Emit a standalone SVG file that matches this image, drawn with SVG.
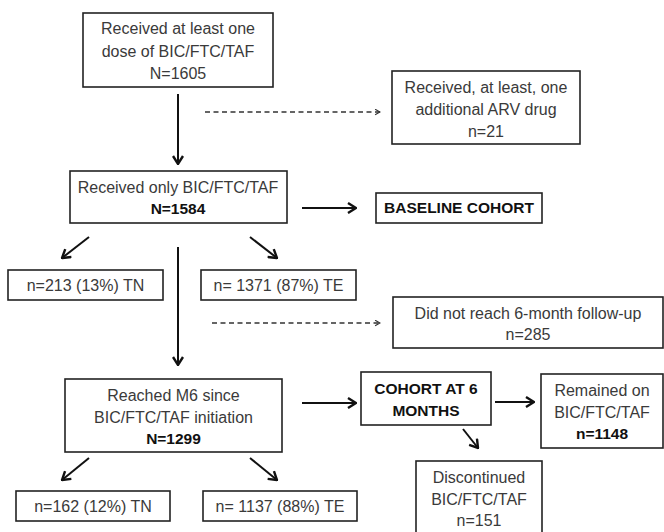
<svg xmlns="http://www.w3.org/2000/svg" width="664" height="532" viewBox="0 0 664 532">
<style>
.box{fill:#fff;stroke:#222;stroke-width:1.6}
.t{font-family:"Liberation Sans",Arial,sans-serif;font-size:16px;fill:#3a3a3a;text-anchor:middle}
.b{font-weight:bold;fill:#111;font-size:15.5px}
.c{stroke:#111;stroke-width:2;fill:none}
.d{stroke:#333;stroke-width:1.3;fill:none;stroke-dasharray:5,3.5}
</style>
<defs>
<marker id="ah2" viewBox="0 0 10 10" refX="9" refY="5" markerWidth="7" markerHeight="7" orient="auto" markerUnits="userSpaceOnUse">
<path d="M2,1 L9,5 L2,9" fill="none" stroke="#333" stroke-width="1.6"/>
</marker>
<marker id="ahb" viewBox="0 0 12 12" refX="11" refY="6" markerWidth="12" markerHeight="12" orient="auto" markerUnits="userSpaceOnUse">
<path d="M3,1 L11,6 L3,11" fill="none" stroke="#111" stroke-width="2.4"/>
</marker>
</defs>
<g id="connectors">
<line class="c" x1="178" y1="94" x2="178" y2="164" marker-end="url(#ahb)"/>
<line class="d" x1="205" y1="112" x2="380" y2="112" marker-end="url(#ah2)"/>
<line class="c" x1="302" y1="208" x2="356" y2="208" marker-end="url(#ahb)"/>
<line class="c" x1="89" y1="237" x2="62" y2="258" marker-end="url(#ahb)"/>
<line class="c" x1="250" y1="237" x2="277" y2="258" marker-end="url(#ahb)"/>
<line class="c" x1="178" y1="247" x2="178" y2="365" marker-end="url(#ahb)"/>
<line class="d" x1="212" y1="323" x2="380" y2="323" marker-end="url(#ah2)"/>
<line class="c" x1="302" y1="403" x2="356" y2="403" marker-end="url(#ahb)"/>
<line class="c" x1="495" y1="402" x2="534" y2="402" marker-end="url(#ahb)"/>
<line class="c" x1="463" y1="429" x2="478" y2="448" marker-end="url(#ahb)"/>
<line class="c" x1="89" y1="458" x2="62" y2="480" marker-end="url(#ahb)"/>
<line class="c" x1="250" y1="458" x2="277" y2="480" marker-end="url(#ahb)"/>
</g>
<g id="n1">
<rect class="box" x="83" y="13" width="190" height="74"/>
<text class="t" x="178" y="34">Received at least one</text>
<text class="t" x="178" y="57">dose of BIC/FTC/TAF</text>
<text class="t" x="178" y="79">N=1605</text>
</g>
<g id="n2">
<rect class="box" x="392" y="71" width="188" height="73"/>
<text class="t" x="486" y="93">Received, at least, one</text>
<text class="t" x="486" y="115">additional ARV drug</text>
<text class="t" x="486" y="137">n=21</text>
</g>
<g id="n3">
<rect class="box" x="70" y="171" width="217" height="52"/>
<text class="t" x="178" y="193">Received only BIC/FTC/TAF</text>
<text class="t b" x="178" y="214">N=1584</text>
</g>
<g id="n4">
<rect class="box" x="376" y="193" width="166" height="30"/>
<text class="t b" x="459" y="213">BASELINE COHORT</text>
</g>
<g id="n5">
<rect class="box" x="8" y="270" width="155" height="30"/>
<text class="t" x="85.5" y="291">n=213 (13%) TN</text>
</g>
<g id="n6">
<rect class="box" x="201" y="270" width="155" height="30"/>
<text class="t" x="278.5" y="291">n= 1371 (87%) TE</text>
</g>
<g id="n7">
<rect class="box" x="393" y="297" width="270" height="51"/>
<text class="t" x="528" y="319">Did not reach 6-month follow-up</text>
<text class="t" x="528" y="340">n=285</text>
</g>
<g id="n8">
<rect class="box" x="65" y="379" width="217" height="73"/>
<text class="t" x="173.5" y="401">Reached M6 since</text>
<text class="t" x="173.5" y="423">BIC/FTC/TAF initiation</text>
<text class="t b" x="173.5" y="444">N=1299</text>
</g>
<g id="n9">
<rect class="box" x="361" y="372" width="130" height="53"/>
<text class="t b" x="426" y="394">COHORT AT 6</text>
<text class="t b" x="426" y="416">MONTHS</text>
</g>
<g id="n10">
<rect class="box" x="541" y="374" width="122" height="74"/>
<text class="t" x="602" y="396">Remained on</text>
<text class="t" x="602" y="418">BIC/FTC/TAF</text>
<text class="t b" x="602" y="439">n=1148</text>
</g>
<g id="n11">
<rect class="box" x="416" y="461" width="126" height="80"/>
<text class="t" x="479" y="483">Discontinued</text>
<text class="t" x="479" y="505">BIC/FTC/TAF</text>
<text class="t" x="479" y="526">n=151</text>
</g>
<g id="n12">
<rect class="box" x="16" y="491" width="154" height="30"/>
<text class="t" x="93" y="512">n=162 (12%) TN</text>
</g>
<g id="n13">
<rect class="box" x="203" y="491" width="154" height="30"/>
<text class="t" x="280" y="512">n= 1137 (88%) TE</text>
</g>
</svg>
